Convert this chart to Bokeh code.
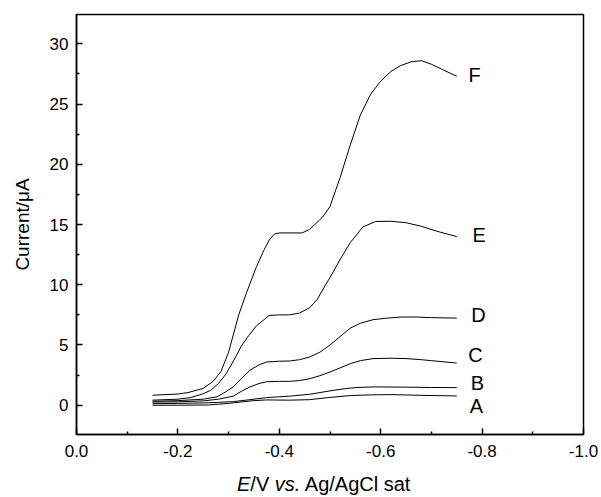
from bokeh.plotting import figure
from bokeh.models import Range1d, FixedTicker, NumeralTickFormatter, Div
from bokeh.layouts import column
from bokeh.core.properties import value
from bokeh.embed import file_html
from bokeh.resources import INLINE

FONT = "Liberation Sans"

# Potential (V) and current (uA) for each curve
E_F = [-0.15, -0.20, -0.22, -0.25, -0.27, -0.285, -0.30, -0.32, -0.335, -0.355, -0.37, -0.38, -0.39, -0.40, -0.445, -0.46, -0.47, -0.485, -0.50, -0.52, -0.54, -0.56, -0.58, -0.60, -0.62, -0.64, -0.66, -0.68, -0.70, -0.72, -0.75]
I_F = [0.83, 0.93, 1.05, 1.4, 2.0, 2.8, 4.4, 7.5, 9.3, 11.5, 12.9, 13.7, 14.2, 14.3, 14.3, 14.6, 15.0, 15.6, 16.5, 18.9, 21.6, 24.1, 25.8, 26.9, 27.7, 28.2, 28.5, 28.6, 28.3, 27.9, 27.3]

E_E = [-0.15, -0.20, -0.225, -0.25, -0.265, -0.28, -0.295, -0.31, -0.325, -0.34, -0.355, -0.37, -0.38, -0.40, -0.42, -0.44, -0.46, -0.475, -0.49, -0.50, -0.52, -0.54, -0.565, -0.59, -0.62, -0.65, -0.68, -0.71, -0.75]
I_E = [0.42, 0.5, 0.63, 0.95, 1.25, 1.8, 2.6, 3.7, 4.9, 5.8, 6.6, 7.1, 7.45, 7.5, 7.5, 7.65, 8.1, 8.8, 9.9, 10.6, 12.1, 13.5, 14.8, 15.25, 15.27, 15.15, 14.85, 14.45, 14.0]

E_D = [-0.15, -0.20, -0.25, -0.277, -0.29, -0.309, -0.325, -0.342, -0.36, -0.375, -0.40, -0.42, -0.44, -0.46, -0.48, -0.50, -0.52, -0.54, -0.56, -0.585, -0.61, -0.64, -0.67, -0.70, -0.75]
I_D = [0.33, 0.38, 0.5, 0.7, 1.0, 1.52, 2.2, 2.9, 3.35, 3.59, 3.65, 3.67, 3.78, 4.0, 4.4, 5.0, 5.7, 6.4, 6.8, 7.1, 7.22, 7.32, 7.32, 7.27, 7.23]

E_C = [-0.15, -0.20, -0.25, -0.28, -0.309, -0.325, -0.342, -0.36, -0.375, -0.40, -0.42, -0.44, -0.46, -0.48, -0.50, -0.52, -0.54, -0.56, -0.585, -0.62, -0.65, -0.68, -0.70, -0.75]
I_C = [0.26, 0.28, 0.36, 0.5, 0.75, 1.15, 1.52, 1.8, 1.95, 1.98, 1.98, 2.05, 2.2, 2.45, 2.76, 3.1, 3.45, 3.7, 3.87, 3.9, 3.87, 3.78, 3.7, 3.5]

E_B = [-0.15, -0.20, -0.25, -0.28, -0.31, -0.34, -0.375, -0.40, -0.42, -0.46, -0.50, -0.53, -0.555, -0.59, -0.65, -0.70, -0.75]
I_B = [0.13, 0.15, 0.19, 0.24, 0.3, 0.45, 0.63, 0.7, 0.75, 0.91, 1.19, 1.38, 1.48, 1.52, 1.5, 1.47, 1.46]

E_A = [-0.15, -0.20, -0.26, -0.30, -0.3225, -0.35, -0.375, -0.42, -0.46, -0.50, -0.54, -0.58, -0.62, -0.68, -0.75]
I_A = [0.0, 0.0, 0.02, 0.15, 0.26, 0.38, 0.44, 0.42, 0.46, 0.65, 0.8, 0.86, 0.88, 0.82, 0.77]

curve_names = ["A", "B", "C", "D", "E", "F"]
curve_E = [E_A, E_B, E_C, E_D, E_E, E_F]
curve_I = [I_A, I_B, I_C, I_D, I_E, I_F]

label_x = [-0.789, -0.791, -0.787, -0.793, -0.794, -0.785]
label_y = [-0.08, 1.82, 4.14, 7.46, 14.17, 27.4]

x_major = [0.0, -0.2, -0.4, -0.6, -0.8, -1.0]
x_minor = [-0.1, -0.3, -0.5, -0.7, -0.9]
y_major = [0, 5, 10, 15, 20, 25, 30]
y_minor = [-2.5, 2.5, 7.5, 12.5, 17.5, 22.5, 27.5, 32.5]

p = figure(width=601, height=468, output_backend="svg", toolbar_location=None,
           x_range=Range1d(0.0, -1.0), y_range=Range1d(-2.43, 32.43),
           min_border_left=76, min_border_right=18, min_border_top=14, min_border_bottom=34)
p.grid.visible = False
p.outline_line_color = "black"
p.outline_line_width = 1.5
p.background_fill_color = "white"
p.border_fill_color = "white"

for E, I in zip(curve_E, curve_I):
    p.line(E, I, line_color="black", line_width=1.0)

p.text(x=label_x, y=label_y, text=curve_names, text_font=value(FONT), text_font_size="20px",
       text_align="center", text_baseline="middle", text_color="black")

for ax in (p.xaxis[0], p.yaxis[0]):
    ax.axis_line_width = 1.5
    ax.major_tick_line_width = 1.5
    ax.minor_tick_line_width = 1.5
    ax.major_tick_in = 6
    ax.major_tick_out = 0
    ax.minor_tick_in = 3
    ax.minor_tick_out = 0
    ax.major_label_text_font = FONT
    ax.major_label_text_font_size = "17px"
    ax.major_label_text_color = "black"

p.xaxis.ticker = FixedTicker(ticks=x_major, minor_ticks=x_minor)
p.xaxis.formatter = NumeralTickFormatter(format="0.0")
p.xaxis.major_label_standoff = 10
p.yaxis.ticker = FixedTicker(ticks=y_major, minor_ticks=y_minor)
p.yaxis.major_label_standoff = 8
p.yaxis.axis_label = "Current/\u03bcA"
p.yaxis.axis_label_text_font = FONT
p.yaxis.axis_label_text_font_size = "19px"
p.yaxis.axis_label_text_font_style = "normal"
p.yaxis.axis_label_text_color = "black"
p.yaxis.axis_label_standoff = 14

xlabel = Div(text="<i>E</i>/V <i>vs.</i> Ag/AgCl sat", width=601, height=29,
             styles={"font-family": FONT, "font-size": "20px", "color": "black",
                     "padding-left": "232px", "line-height": "22px", "padding-top": "0px",
                     "background-color": "white", "white-space": "nowrap"})

layout = column(p, xlabel, spacing=0)
open("out.html", "w").write(file_html(layout, INLINE))
